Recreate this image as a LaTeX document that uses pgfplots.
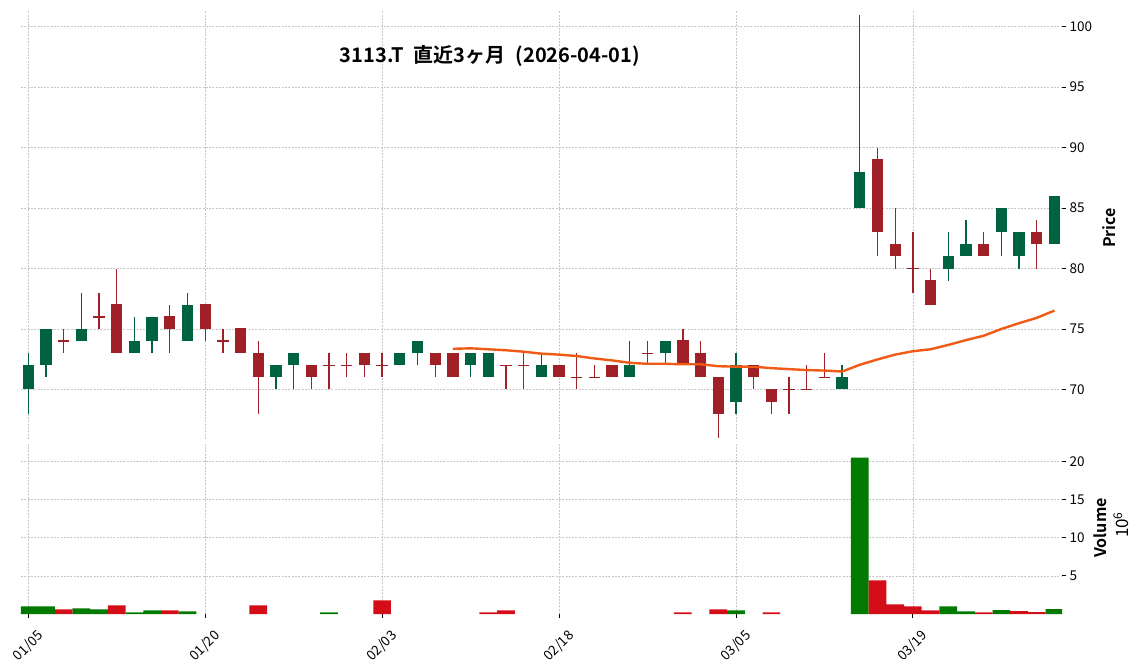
\documentclass[border=0pt]{standalone}
\usepackage{fontspec}
\setmainfont{Noto Sans CJK JP}[BoldFont={Noto Sans CJK JP Bold}]
\usepackage{pgfplots}
\usepackage{pgfplotstable}
\pgfplotsset{compat=1.18}

\definecolor{upc}{RGB}{0,99,63}
\definecolor{dnc}{RGB}{160,32,40}
\definecolor{vup}{RGB}{0,122,0}
\definecolor{vdn}{RGB}{212,14,24}
\definecolor{mac}{RGB}{240,90,20}
\definecolor{gridc}{RGB}{200,200,200}

% i O H L C
\pgfplotstableread{
i O H L C
0 70 73 68 72
1 72 75 71 75
3 74 78 74 75
6 73 76 73 74
7 74 76 73 76
9 74 78 74 77
14 71 72 70 72
15 72 73 70 73
21 72 73 72 73
22 73 74 72 74
25 72 73 71 73
26 71 73 71 73
29 71 73 71 72
34 71 74 71 72
36 73 74 72 74
40 69 73 68 72
46 70 72 70 71
47 85 101 85 88
52 80 83 79 81
53 81 84 81 82
55 83 85 81 85
56 81 83 80 83
58 82 86 82 86
}\upcandles

\pgfplotstableread{
i O H L C
2 74 75 73 74
4 76 78 75 76
5 77 80 73 73
8 76 77 73 75
10 77 77 74 75
11 74 75 73 74
12 75 75 73 73
13 73 74 68 71
16 72 72 70 71
17 72 73 70 72
18 72 73 71 72
19 73 73 71 72
20 72 73 71 72
23 73 73 71 72
24 73 73 71 71
27 72 72 70 72
28 72 73 70 72
30 72 72 71 71
31 71 73 70 71
32 71 72 71 71
33 72 72 71 71
35 73 74 72 73
37 74 75 72 72
38 73 74 71 71
39 71 71 66 68
41 72 72 70 71
42 70 70 68 69
43 70 71 68 70
44 70 72 70 70
45 71 73 71 71
48 89 90 81 83
49 82 85 80 81
50 80 83 78 80
51 79 80 77 77
54 82 83 81 81
57 83 84 80 82
}\dncandles

% 25-day moving average of close
\pgfplotstableread{
i ma
24 73.36
25 73.40
26 73.32
27 73.24
28 73.12
29 72.96
30 72.88
31 72.76
32 72.56
33 72.40
34 72.20
35 72.12
36 72.12
37 72.08
38 72.08
39 71.92
40 71.88
41 71.88
42 71.76
43 71.68
44 71.60
45 71.56
46 71.48
47 72.04
48 72.48
49 72.88
50 73.16
51 73.32
52 73.68
53 74.08
54 74.44
55 75.00
56 75.48
57 75.92
58 76.52
}\matable

% volume (millions)
\pgfplotstableread{
i v
0 1.0
1 1.0
3 0.74
4 0.6
6 0.22
7 0.48
9 0.35
17 0.22
40 0.48
47 20.5
52 1.0
53 0.35
55 0.5
58 0.65
}\volup

\pgfplotstableread{
i v
2 0.6
5 1.13
8 0.48
13 1.13
20 1.78
26 0.22
27 0.48
37 0.22
39 0.6
42 0.22
48 4.4
49 1.26
50 1.0
51 0.48
54 0.22
56 0.38
57 0.25
}\voldn

\pgfplotsset{
  common/.style={
    scale only axis,
    width=1041pt,
    xmin=-0.41, xmax=58.43,
    axis x line*=bottom, axis y line*=right,
    axis line style={draw=none},
    grid=major,
    grid style={dash pattern=on 2pt off 1.3pt, color=gridc, line width=0.55pt},
    tick align=outside,
    major tick length=4pt,
    ytick style={black, line width=0.9pt},
    xtick={0,10,20,30,40,50},
    ticklabel style={font=\fontsize{13.5}{15}\selectfont},
    /pgf/number format/assume math mode=true,
  },
  wick/.style={draw=none, mark=none,
    error bars/y dir=both, error bars/y explicit, error bars/error mark=none,
    error bars/error bar style={draw=#1, line width=1.3pt}},
  body/.style={draw=none, mark=none,
    error bars/y dir=both, error bars/y explicit, error bars/error mark=none,
    error bars/error bar style={draw=#1, line width=11.3pt}},
}

\begin{document}
\begin{tikzpicture}
\path[use as bounding box] (0,0) rectangle (1144pt,670pt);

\begin{axis}[common,
  at={(21pt,231pt)}, anchor=south west,
  height=428pt,
  ymin=65.9, ymax=101.3,
  ytick={70,75,80,85,90,95,100},
  xticklabels={},
  xtick style={draw=none},
]
\addplot[wick=upc] table[x=i, y expr={(\thisrow{H}+\thisrow{L})/2}, y error expr={(\thisrow{H}-\thisrow{L})/2}] {\upcandles};
\addplot[wick=dnc] table[x=i, y expr={(\thisrow{H}+\thisrow{L})/2}, y error expr={(\thisrow{H}-\thisrow{L})/2}] {\dncandles};
\addplot[body=upc] table[x=i, y expr={(\thisrow{O}+\thisrow{C})/2}, y error expr={abs(\thisrow{C}-\thisrow{O})/2}] {\upcandles};
\addplot[body=dnc] table[x=i, y expr={(\thisrow{O}+\thisrow{C})/2}, y error expr={abs(\thisrow{C}-\thisrow{O})/2}] {\dncandles};
\addplot[only marks, mark=-, mark size=5.65pt, mark options={draw=dnc, line width=1.3pt}] table[x=i, y=O] {\dncandles};
\addplot[color=mac, line width=2.4pt, line join=round, mark=none] table[x=i, y=ma] {\matable};
\end{axis}

\begin{axis}[common,
  at={(21pt,56pt)}, anchor=south west,
  height=171pt,
  ymin=0, ymax=22.4,
  ytick={5,10,15,20},
  xticklabels={01/05,01/20,02/03,02/18,03/05,03/19},
  xtick style={black, line width=0.9pt},
  xticklabel style={yshift=-28pt, rotate=45, anchor=center},
  ybar, bar width=1, bar shift=0pt,
]
\addplot[fill=vup, draw=none] table[x=i, y=v] {\volup};
\addplot[fill=vdn, draw=none] table[x=i, y=v] {\voldn};
\end{axis}

\node[font=\bfseries\fontsize{20}{20}\selectfont] at (490pt,614pt) {3113.T\hspace{0.5em}直近3ヶ月\hspace{0.5em}(2026-04-01)};
\node[rotate=90, font=\bfseries\fontsize{16}{16}\selectfont] at (1109.5pt,442pt) {Price};
\node[rotate=90, font=\bfseries\fontsize{16}{16}\selectfont] at (1100pt,142pt) {Volume};
\node[rotate=90, font=\fontsize{17}{17}\selectfont] at (1121pt,145pt) {10\textsuperscript{6}};
\end{tikzpicture}
\end{document}
